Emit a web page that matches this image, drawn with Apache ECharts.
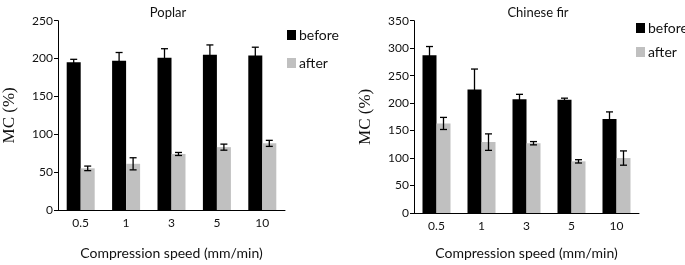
<!DOCTYPE html>
<html>
  <head>
    <meta charset="UTF-8" />
    <title></title>
    <style type="text/css">
      * {
        margin: 0;
        padding: 0;
      }
      #main {
        width: 685px;
        height: 265px;
        background-color: #fff;
      }
    </style>
  </head>
  <body>
    <div id="main"></div>
  </body>
  <script src="https://cdn.jsdelivr.net/npm/echarts@6/dist/echarts.min.js"></script>
  <script type="text/javascript">
    // compression speed (mm/min)
    var speeds = ['0.5', '1', '3', '5', '10']
    // poplar MC (%)
    var poplarBefore = [195, 197, 201, 205, 204]
    var poplarBeforeErr = [4, 11, 12, 13, 11]
    var poplarAfter = [55, 61, 74, 83, 88]
    var poplarAfterErr = [3, 8, 2, 4, 4]
    // chinese fir MC (%)
    var firBefore = [287, 225, 207, 206, 171]
    var firBeforeErr = [16, 37, 9, 3, 13]
    var firAfter = [163, 129, 127, 94, 100]
    var firAfterErr = [11, 15, 3, 3, 13]

    var font = 'Lato'
    var black = '#000'
    var grey = '#c0c0c0'
    var txt = '#111'

    function errData(vals, errs) {
      return vals.map((v, i) => [i, v, errs[i]])
    }

    // error bar: offset in px from category center
    function errSeries(idx, vals, errs, off) {
      return {
        type: 'custom',
        xAxisIndex: idx,
        yAxisIndex: idx,
        z: 5,
        silent: true,
        data: errData(vals, errs),
        renderItem: function (params, api) {
          var hi = api.coord([api.value(0), api.value(1) + api.value(2)])
          var lo = api.coord([api.value(0), api.value(1) - api.value(2)])
          var x = hi[0] + off
          var w = 3.5
          var st = { stroke: '#000', lineWidth: 1.3 }
          return {
            type: 'group',
            children: [
              { type: 'line', shape: { x1: x, y1: hi[1], x2: x, y2: lo[1] }, style: st },
              { type: 'line', shape: { x1: x - w, y1: hi[1], x2: x + w, y2: hi[1] }, style: st },
              { type: 'line', shape: { x1: x - w, y1: lo[1], x2: x + w, y2: lo[1] }, style: st }
            ]
          }
        }
      }
    }

    function xAx(idx, gap) {
      return {
        type: 'category',
        gridIndex: idx,
        data: speeds,
        name: 'Compression speed (mm/min)',
        nameLocation: 'middle',
        nameGap: gap,
        nameTextStyle: { fontFamily: font, fontSize: 14, color: txt },
        axisLine: { lineStyle: { color: '#000', width: 1 } },
        axisTick: { show: false },
        axisLabel: { fontFamily: font, fontSize: 12, color: txt, margin: 7 }
      }
    }

    function yAx(idx, max) {
      return {
        type: 'value',
        gridIndex: idx,
        min: 0,
        max: max,
        interval: 50,
        name: 'MC (%)',
        nameLocation: 'middle',
        nameGap: 40,
        nameTextStyle: { fontFamily: 'Liberation Serif', fontSize: 17, color: txt },
        axisLine: { show: true, lineStyle: { color: '#000', width: 1 } },
        axisTick: { show: true, length: 4, lineStyle: { color: '#000' } },
        splitLine: { show: false },
        axisLabel: { fontFamily: font, fontSize: 12, color: txt, margin: 5 }
      }
    }

    function bar(idx, name, vals, color) {
      return {
        name: name,
        type: 'bar',
        xAxisIndex: idx,
        yAxisIndex: idx,
        data: vals,
        barWidth: 14,
        barGap: '0%',
        itemStyle: { color: color }
      }
    }

    var myCharts = echarts.init(document.getElementById('main'))
    var option = {
      animation: false,
      title: [
        { text: 'Poplar', left: 163, top: 1, textAlign: 'center',
          textStyle: { fontFamily: font, fontSize: 13, fontWeight: 'normal', color: txt } },
        { text: 'Chinese fir', left: 533, top: 1, textAlign: 'center',
          textStyle: { fontFamily: font, fontSize: 13, fontWeight: 'normal', color: txt } }
      ],
      legend: [
        { data: ['before', 'after'], orient: 'vertical', left: 282, top: 23,
          icon: 'rect', itemWidth: 9, itemHeight: 10, itemGap: 14,
          textStyle: { fontFamily: font, fontSize: 14, color: txt, padding: [0, 0, 0, -2] } },
        { data: ['before', 'after'], orient: 'vertical', left: 631, top: 16,
          icon: 'rect', itemWidth: 9, itemHeight: 10, itemGap: 10,
          textStyle: { fontFamily: font, fontSize: 14, color: txt, padding: [0, 0, 0, -2] } }
      ],
      grid: [
        { left: 51, top: 20.7, width: 234, height: 200 },
        { left: 414, top: 20.7, width: 225, height: 196 }
      ],
      xAxis: [xAx(0, 36), xAx(1, 33)],
      yAxis: [yAx(0, 250), yAx(1, 350)],
      series: [
        bar(0, 'before', poplarBefore, black),
        bar(0, 'after', poplarAfter, grey),
        bar(1, 'before', firBefore, black),
        bar(1, 'after', firAfter, grey),
        errSeries(0, poplarBefore, poplarBeforeErr, -7),
        errSeries(0, poplarAfter, poplarAfterErr, 7),
        errSeries(1, firBefore, firBeforeErr, -7),
        errSeries(1, firAfter, firAfterErr, 7)
      ]
    }
    myCharts.setOption(option)
  </script>
</html>
